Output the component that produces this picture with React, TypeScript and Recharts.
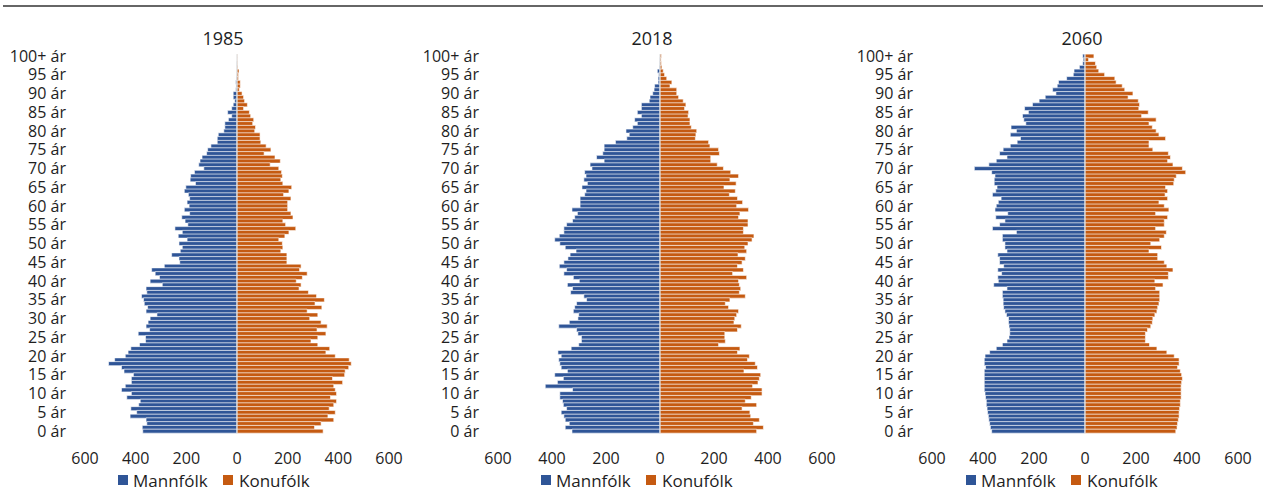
import React from 'react';
import { BarChart, Bar, XAxis, YAxis, ReferenceLine } from 'recharts';

const ages: string[] = Array.from({ length: 101 }, (_, i) => (i === 100 ? '100+ ár' : `${i} ár`));
const xTicks = [-600, -400, -200, 0, 200, 400, 600];

// values listed from age 0 to age 100+
const male1985 = [372, 374, 356, 359, 422, 396, 419, 388, 382, 435, 417, 456, 441, 417, 417, 409, 446, 456, 507, 483, 441, 430, 419, 385, 361, 361, 390, 345, 359, 351, 343, 316, 359, 353, 366, 369, 377, 356, 359, 295, 343, 306, 323, 337, 287, 226, 229, 258, 224, 216, 229, 197, 232, 216, 245, 194, 205, 218, 187, 208, 189, 197, 187, 192, 208, 202, 164, 185, 183, 168, 131, 151, 146, 138, 120, 116, 103, 78, 78, 74, 52, 48, 48, 34, 21, 37, 21, 15, 9, 15, 15, 5, 4, 5, 3, 2, 1, 1, 1, 0, 0];
const female1985 = [340, 306, 332, 382, 359, 388, 364, 382, 393, 369, 393, 388, 382, 417, 377, 425, 427, 441, 451, 443, 388, 351, 366, 319, 292, 319, 351, 316, 356, 332, 287, 319, 277, 335, 308, 345, 314, 282, 245, 253, 234, 258, 277, 247, 253, 197, 197, 197, 173, 181, 179, 165, 189, 205, 232, 192, 181, 221, 213, 200, 200, 200, 213, 184, 205, 216, 181, 173, 179, 176, 165, 131, 171, 150, 107, 134, 115, 94, 91, 91, 70, 73, 62, 66, 54, 49, 26, 41, 30, 26, 20, 9, 13, 13, 6, 6, 8, 3, 2, 1, 1];
const male2018 = [326, 351, 336, 351, 356, 366, 346, 358, 361, 371, 371, 324, 425, 380, 358, 390, 343, 366, 371, 375, 366, 378, 329, 301, 291, 291, 304, 309, 375, 336, 304, 301, 321, 316, 309, 272, 282, 331, 324, 343, 299, 321, 356, 346, 373, 356, 341, 333, 311, 351, 371, 390, 373, 356, 356, 346, 324, 316, 306, 326, 296, 296, 296, 279, 274, 289, 269, 282, 274, 279, 252, 259, 207, 235, 212, 207, 207, 165, 123, 114, 126, 101, 84, 94, 69, 84, 69, 69, 40, 37, 27, 22, 20, 7, 7, 5, 10, 3, 2, 1, 0];
const female2018 = [358, 383, 346, 368, 336, 333, 304, 358, 316, 338, 378, 378, 343, 363, 368, 373, 311, 361, 353, 324, 331, 287, 296, 217, 242, 240, 240, 287, 301, 274, 277, 284, 291, 254, 242, 259, 316, 294, 299, 294, 291, 321, 269, 309, 287, 304, 316, 289, 321, 314, 326, 341, 348, 309, 309, 326, 326, 291, 296, 328, 284, 306, 287, 257, 279, 237, 282, 259, 291, 262, 235, 212, 188, 188, 220, 217, 185, 180, 131, 133, 136, 116, 111, 111, 104, 106, 91, 96, 86, 69, 62, 62, 37, 44, 25, 17, 12, 7, 5, 4, 5];
const male2060 = [366, 371, 374, 377, 379, 382, 384, 387, 387, 390, 392, 395, 395, 395, 395, 395, 395, 390, 395, 395, 392, 374, 348, 324, 306, 298, 295, 295, 298, 300, 300, 308, 314, 319, 321, 321, 324, 324, 306, 358, 340, 342, 327, 342, 319, 335, 335, 342, 306, 314, 314, 324, 324, 269, 363, 335, 314, 350, 303, 353, 348, 340, 329, 363, 350, 345, 356, 356, 353, 366, 434, 377, 348, 306, 335, 321, 293, 266, 253, 293, 269, 290, 232, 240, 245, 222, 237, 206, 180, 156, 114, 127, 109, 104, 72, 46, 43, 22, 9, 7, 9];
const female2060 = [356, 361, 363, 366, 369, 369, 371, 374, 374, 377, 377, 377, 377, 379, 382, 379, 374, 363, 369, 369, 350, 321, 282, 253, 237, 237, 237, 245, 258, 264, 266, 274, 282, 285, 290, 293, 293, 293, 277, 306, 274, 327, 327, 345, 321, 311, 285, 285, 251, 300, 258, 293, 311, 319, 277, 311, 311, 324, 277, 329, 311, 290, 324, 314, 324, 316, 348, 350, 358, 395, 382, 345, 324, 335, 327, 266, 251, 251, 316, 290, 279, 264, 251, 279, 222, 248, 211, 214, 209, 169, 188, 156, 146, 122, 117, 77, 54, 46, 41, 14, 35];

const BLUE = '#2F5597';
const ORANGE = '#C55A11';
const TEXT = '#1e1e1e';
const FONT = '"Open Sans", "Noto Sans", sans-serif';

type PanelProps = {
  male: number[];
  female: number[];
  left: number;
  width: number;
  plotLeft: number;
  plotRight: number;
};

function Pyramid({ male, female, left, width, plotLeft, plotRight }: PanelProps) {
  const data = ages.map((a, i) => ({ age: a, m: -male[i], f: female[i] })).reverse();
  return (
    <div style={{ position: 'absolute', left, top: 0, width, height: 492 }}>
      <BarChart
        width={width}
        height={492}
        data={data}
        layout="vertical"
        stackOffset="sign"
        barCategoryGap={0}
        margin={{ top: 54.1, bottom: 29.1, left: 0, right: width - (plotRight - left) }}
      >
        <XAxis
          type="number"
          domain={[-600, 600]}
          ticks={xTicks}
          allowDataOverflow
          tickFormatter={(v: number) => String(Math.abs(v))}
          axisLine={false}
          tickLine={false}
          tickSize={0}
          tickMargin={20}
          height={30}
          tick={{ fontSize: 16, fill: TEXT, fontFamily: FONT }}
        />
        <YAxis
          type="category"
          dataKey="age"
          interval={4}
          width={plotLeft - left}
          axisLine={false}
          tickLine={false}
          tickSize={0}
          tickMargin={19}
          tick={{ fontSize: 16, fill: TEXT, fontFamily: FONT }}
        />
        <Bar dataKey="m" stackId="a" fill={BLUE} stroke="#ffffff" strokeWidth={0.6} isAnimationActive={false} />
        <Bar dataKey="f" stackId="a" fill={ORANGE} stroke="#ffffff" strokeWidth={0.6} isAnimationActive={false} />
        <ReferenceLine x={0} stroke="#d9d9d9" strokeWidth={1} />
      </BarChart>
    </div>
  );
}

const titles = [
  { text: '1985', x: 223 },
  { text: '2018', x: 652 },
  { text: '2060', x: 1082 },
];
const legendStarts = [118, 541, 966];

export default function App() {
  return (
    <div style={{ position: 'relative', width: 1263, height: 492, background: '#fff', fontFamily: FONT, overflow: 'hidden' }}>
      <style>{'body{margin:0}'}</style>
      <Pyramid male={male1985} female={female1985} left={0} width={430} plotLeft={85} plotRight={389} />
      <Pyramid male={male2018} female={female2018} left={420} width={436} plotLeft={498} plotRight={822} />
      <Pyramid male={male2060} female={female2060} left={840} width={423} plotLeft={932} plotRight={1238} />
      <svg width={1263} height={492} style={{ position: 'absolute', left: 0, top: 0, pointerEvents: 'none' }}>
        <line x1={3} x2={1263} y1={6} y2={6} stroke="#333" strokeWidth={1.6} />
        {titles.map((t) => (
          <text key={t.text} x={t.x} y={45} textAnchor="middle" fontSize={18} fill={TEXT} fontFamily={FONT}>
            {t.text}
          </text>
        ))}
        {legendStarts.map((lx) => (
          <g key={lx}>
            <rect x={lx} y={475} width={10} height={10} fill={BLUE} />
            <text x={lx + 15} y={487} fontSize={17} fill={TEXT} fontFamily={FONT}>Mannfólk</text>
            <rect x={lx + 105} y={475} width={10} height={10} fill={ORANGE} />
            <text x={lx + 121} y={487} fontSize={17} fill={TEXT} fontFamily={FONT}>Konufólk</text>
          </g>
        ))}
      </svg>
    </div>
  );
}
